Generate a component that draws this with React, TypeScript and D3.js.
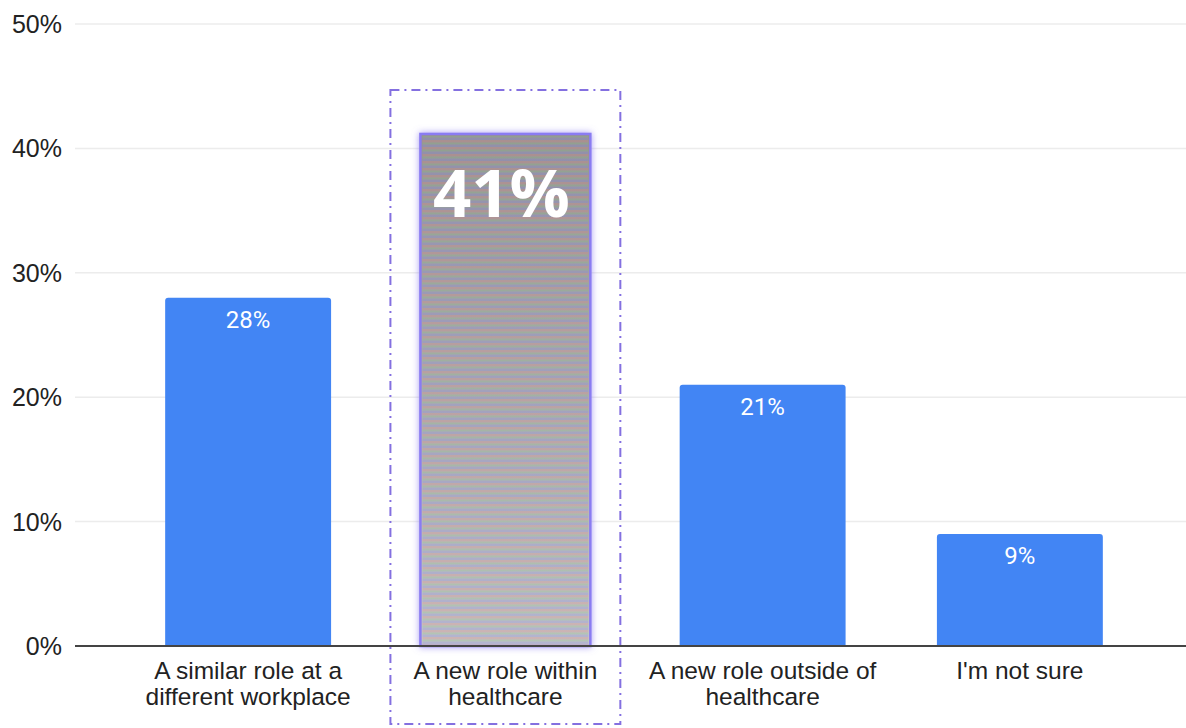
import React from "react";
import * as d3 from "d3";

const categories: string[][] = [
  ["A similar role at a", "different workplace"],
  ["A new role within", "healthcare"],
  ["A new role outside of", "healthcare"],
  ["I'm not sure"],
];
const values: number[] = [28, 41, 21, 9];
const yTicks: number[] = [0, 10, 20, 30, 40, 50];
const highlightIndex = 1;

const W = 1186;
const H = 728;

export default function App() {
  const y = d3.scaleLinear().domain([0, 50]).range([646, 24]);
  const x = d3
    .scaleBand<number>()
    .domain(values.map((_, i) => i))
    .range([119.5, 1148.5])
    .paddingInner(0.355)
    .paddingOuter(0.1775);
  const bw = x.bandwidth();
  const hx = x(highlightIndex)!;
  const hy = y(values[highlightIndex]);

  const roundedTop = (x0: number, y0: number, w: number, h: number, r: number) =>
    `M${x0},${y0 + h}V${y0 + r}Q${x0},${y0} ${x0 + r},${y0}H${x0 + w - r}Q${x0 + w},${y0} ${x0 + w},${y0 + r}V${y0 + h}Z`;

  return (
    <svg
      width={W}
      height={H}
      style={{ position: "absolute", left: 0, top: 0, background: "#fff" }}
    >
      <defs>
        <linearGradient id="hlGrad" x1="0" y1="0" x2="0" y2="1">
          <stop offset="0" stopColor="#959293" />
          <stop offset="0.5" stopColor="#adacae" />
          <stop offset="1" stopColor="#c7c8c9" />
        </linearGradient>
        <pattern id="stripes" width="8" height="7" patternUnits="userSpaceOnUse">
          <rect x="0" y="0" width="8" height="2.5" fill="#d88a8a" opacity="0.3" />
          <rect x="0" y="2.5" width="8" height="2" fill="#8abf8a" opacity="0.3" />
          <rect x="0" y="4.5" width="8" height="2.5" fill="#8a8ae0" opacity="0.3" />
        </pattern>
        <filter id="glow" x="-20%" y="-10%" width="140%" height="120%">
          <feGaussianBlur in="SourceAlpha" stdDeviation="3.5" result="b" />
          <feFlood floodColor="#8c7cf0" floodOpacity="0.75" />
          <feComposite in2="b" operator="in" result="g" />
          <feMerge>
            <feMergeNode in="g" />
            <feMergeNode in="SourceGraphic" />
          </feMerge>
        </filter>
      </defs>

      {/* gridlines */}
      {yTicks.filter((t) => t > 0).map((t) => (
        <line key={t} x1={75} x2={W} y1={y(t)} y2={y(t)} stroke="#ececec" strokeWidth={1.5} />
      ))}

      {/* y tick labels */}
      {yTicks.map((t) => (
        <text
          key={t}
          x={62}
          y={y(t) + 9}
          textAnchor="end"
          fontFamily="'Liberation Sans', Arial, sans-serif"
          fontSize={25}
          fill="#222"
        >
          {t}%
        </text>
      ))}

      {/* normal bars */}
      {values.map((v, i) =>
        i === highlightIndex ? null : (
          <g key={i}>
            <path d={roundedTop(x(i)!, y(v), bw, y(0) - y(v), 3)} fill="#4285f4" />
            <text
              x={x(i)! + bw / 2}
              y={y(v) + 30}
              textAnchor="middle"
              fontFamily="Roboto, sans-serif"
              fontSize={24}
              fill="#fff"
            >
              {v}%
            </text>
          </g>
        )
      )}

      {/* highlighted bar */}
      <g>
        <rect
          x={hx - 2}
          y={hy - 2}
          width={bw + 4}
          height={y(0) - hy + 2}
          fill="url(#hlGrad)"
          stroke="#8a7cf2"
          strokeWidth={2.5}
          filter="url(#glow)"
        />
        <rect x={hx} y={hy} width={bw} height={y(0) - hy - 1.5} fill="url(#stripes)" />
        <text
          x={hx + bw / 2 - 4}
          y={hy + 81}
          textAnchor="middle"
          fontFamily="'Open Sans', sans-serif"
          fontWeight={700}
          fontSize={67}
          fill="#fff"
        >
          {values[highlightIndex]}%
        </text>
        <rect
          x={hx - 32}
          y={hy - 46}
          width={bw + 64}
          height={H - 4 - (hy - 46)}
          fill="none"
          stroke="#8470e0"
          strokeWidth={2}
          strokeDasharray="9 5 2 5"
        />
      </g>

      {/* baseline */}
      <line x1={75} x2={W} y1={y(0)} y2={y(0)} stroke="#444" strokeWidth={2} />

      {/* x labels */}
      {categories.map((lines, i) =>
        lines.map((l, j) => (
          <text
            key={`${i}-${j}`}
            x={x(i)! + bw / 2}
            y={679 + j * 25.5}
            textAnchor="middle"
            fontFamily="'Liberation Sans', Arial, sans-serif"
            fontSize={24.5}
            fill="#222"
          >
            {l}
          </text>
        ))
      )}
    </svg>
  );
}
